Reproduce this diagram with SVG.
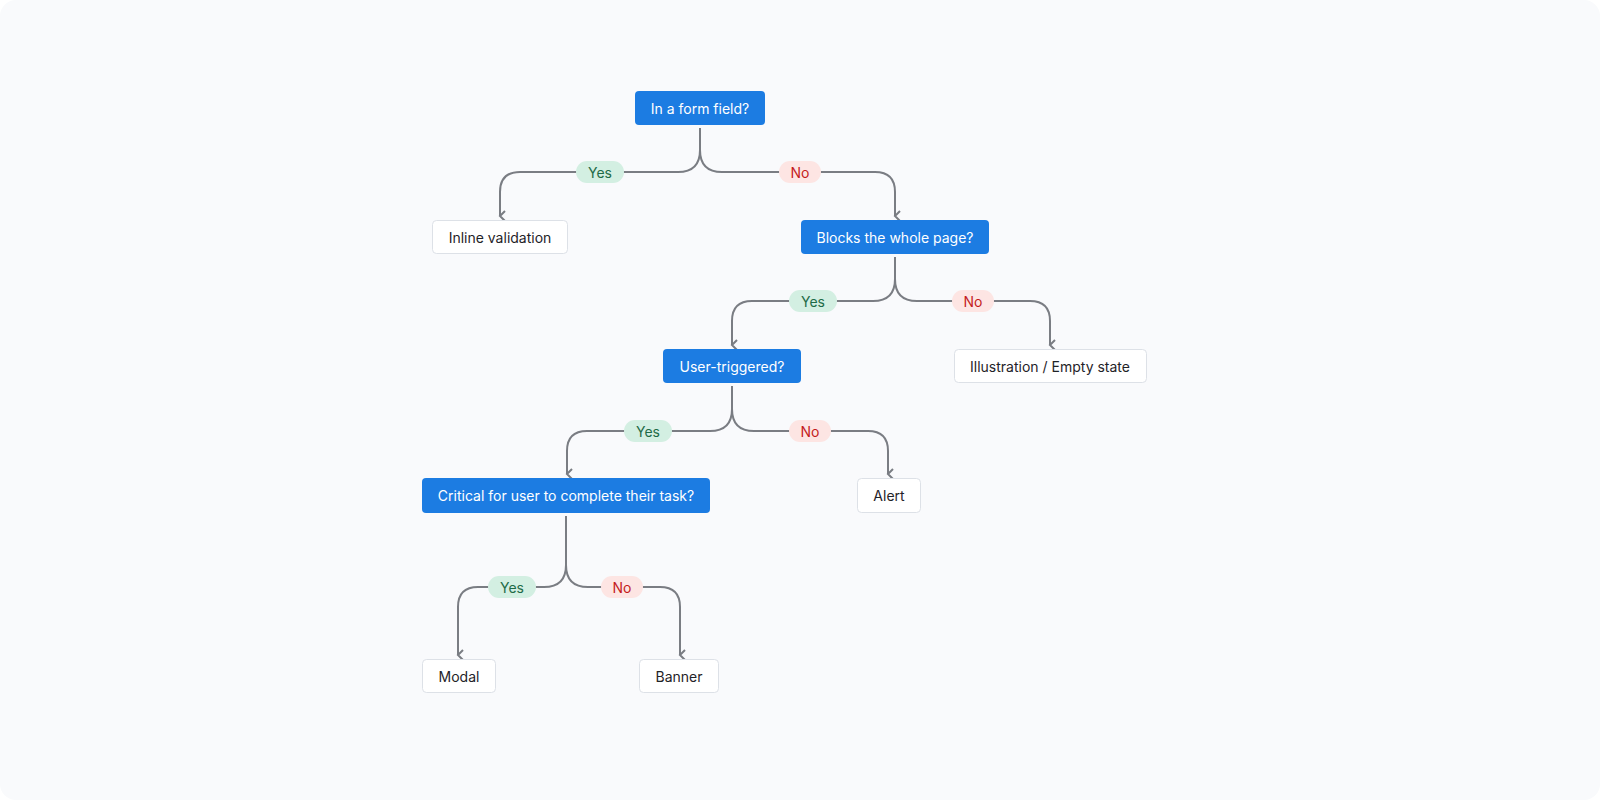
<svg xmlns="http://www.w3.org/2000/svg" width="1600" height="800" viewBox="0 0 1600 800">
<style>
text{font-family:Inter,"Noto Sans",sans-serif;font-size:14px;text-anchor:middle;dominant-baseline:central}
.q rect{fill:#1c7ce2}
.q text{fill:#fff}
.a rect{fill:#fff;stroke:#dde1e7}
.a text{fill:#1f2328}
.c path{fill:none;stroke:#7a7d83;stroke-width:2}
.y rect{fill:#d3efe2}.y text{fill:#1e6b48}
.n rect{fill:#fde5e3}.n text{fill:#c41d1d}
</style>
<defs>
<marker id="ah" viewBox="0 0 12 12" refX="6" refY="10" markerWidth="12" markerHeight="12" markerUnits="userSpaceOnUse" orient="auto-start-reverse">
<path d="M1 5 L6 10 L11 5" fill="none" stroke="#7a7d83" stroke-width="2"/>
</marker>
</defs>
<rect width="1600" height="800" rx="16" fill="#f9fafc"/>
<g class="c">
<path d="M700 128 V150 Q700 172 678 172 H520 Q500 172 500 192 V216" marker-end="url(#ah)"/>
<path d="M700 150 Q700 172 722 172 H875 Q895 172 895 192 V216" marker-end="url(#ah)"/>
<path d="M895 257 V279 Q895 301 873 301 H752 Q732 301 732 321 V345" marker-end="url(#ah)"/>
<path d="M895 279 Q895 301 917 301 H1030 Q1050 301 1050 321 V345" marker-end="url(#ah)"/>
<path d="M732 386 V409 Q732 431 710 431 H587 Q567 431 567 451 V474" marker-end="url(#ah)"/>
<path d="M732 409 Q732 431 754 431 H868 Q888 431 888 451 V474" marker-end="url(#ah)"/>
<path d="M566 516 V565 Q566 587 544 587 H478 Q458 587 458 607 V655" marker-end="url(#ah)"/>
<path d="M566 565 Q566 587 588 587 H660 Q680 587 680 607 V655" marker-end="url(#ah)"/>
</g>
<g class="y"><rect x="576" y="161" width="48" height="22" rx="11"/><text x="600" y="172">Yes</text></g>
<g class="n"><rect x="779" y="161" width="42" height="22" rx="11"/><text x="800" y="172">No</text></g>
<g class="y"><rect x="789" y="290" width="48" height="22" rx="11"/><text x="813" y="301">Yes</text></g>
<g class="n"><rect x="952" y="290" width="42" height="22" rx="11"/><text x="973" y="301">No</text></g>
<g class="y"><rect x="624" y="420" width="48" height="22" rx="11"/><text x="648" y="431">Yes</text></g>
<g class="n"><rect x="789" y="420" width="42" height="22" rx="11"/><text x="810" y="431">No</text></g>
<g class="y"><rect x="488" y="576" width="48" height="22" rx="11"/><text x="512" y="587">Yes</text></g>
<g class="n"><rect x="601" y="576" width="42" height="22" rx="11"/><text x="622" y="587">No</text></g>
<g id="n1" class="q"><rect x="635" y="91" width="130" height="34" rx="4"/><text x="700" y="108">In a form field?</text></g>
<g id="n2" class="a"><rect x="432.5" y="220.5" width="135" height="33" rx="4"/><text x="500" y="237">Inline validation</text></g>
<g id="n3" class="q"><rect x="801" y="220" width="188" height="34" rx="4"/><text x="895" y="237">Blocks the whole page?</text></g>
<g id="n4" class="q"><rect x="663" y="349" width="138" height="34" rx="4"/><text x="732" y="366">User-triggered?</text></g>
<g id="n5" class="a"><rect x="954.5" y="349.5" width="192" height="33" rx="4"/><text x="1050" y="366">Illustration / Empty state</text></g>
<g id="n6" class="q"><rect x="422" y="478" width="288" height="35" rx="4"/><text x="566" y="495.5">Critical for user to complete their task?</text></g>
<g id="n7" class="a"><rect x="857.5" y="478.5" width="63" height="34" rx="4"/><text x="889" y="495.5">Alert</text></g>
<g id="n8" class="a"><rect x="422.5" y="659.5" width="73" height="33" rx="4"/><text x="459" y="676">Modal</text></g>
<g id="n9" class="a"><rect x="639.5" y="659.5" width="79" height="33" rx="4"/><text x="679" y="676">Banner</text></g>
</svg>
